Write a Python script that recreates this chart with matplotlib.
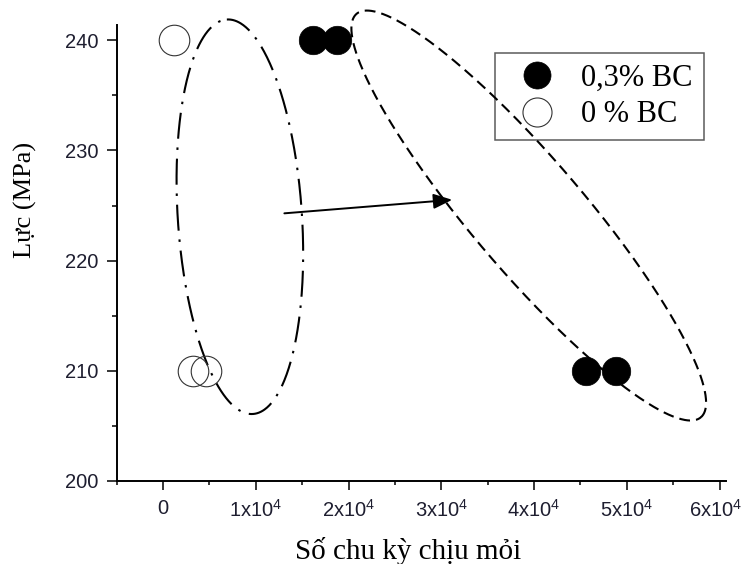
import numpy as np
import matplotlib
matplotlib.use("Agg")
import matplotlib.pyplot as plt
import matplotlib.transforms as mtransforms
from matplotlib.patches import FancyArrowPatch

plt.rcParams['mathtext.fontset'] = 'custom'
plt.rcParams['mathtext.rm'] = 'Liberation Sans'
plt.rcParams['mathtext.it'] = 'Liberation Sans:italic'
plt.rcParams['mathtext.bf'] = 'Liberation Sans:bold'

# data
bc03_x = [16200, 18800, 45600, 48800]
bc03_y = [240, 240, 210, 210]
bc0_x = [1200, 3200, 4600]
bc0_y = [240, 210, 210]

x_ticks = [0, 10000, 20000, 30000, 40000, 50000, 60000]
x_tick_labels = ['0', '1x10$^4$', '2x10$^4$', '3x10$^4$', '4x10$^4$', '5x10$^4$', '6x10$^4$']
y_ticks = [200, 210, 220, 230, 240]

# ellipse guides: centre, half axis vectors (data units)
ell1_c = (8280, 223.98)
ell1_a = (-1403, 17.92)
ell1_b = (6680, 0.37)
ell2_c = (39430, 224.09)
ell2_a = (18560, -18.33)
ell2_b = (4608, 3.29)

arrow_start = (12780, 224.27)
arrow_end = (31480, 225.54)

fig = plt.figure(figsize=(7.43, 5.64), dpi=100)
ax = fig.add_axes([116.7/743, 1-480.7/564, (726-116.7)/743, (480.7-25)/564])

t = np.linspace(0, 2*np.pi, 600)
ex1 = ell1_c[0] + ell1_a[0]*np.cos(t) + ell1_b[0]*np.sin(t)
ey1 = ell1_c[1] + ell1_a[1]*np.cos(t) + ell1_b[1]*np.sin(t)
ex2 = ell2_c[0] + ell2_a[0]*np.cos(t) + ell2_b[0]*np.sin(t)
ey2 = ell2_c[1] + ell2_a[1]*np.cos(t) + ell2_b[1]*np.sin(t)

ax.plot(ex1, ey1, color='black', lw=1.5, linestyle=(0, (12.5, 4.2, 1.2, 4.2)),
        zorder=2, clip_on=False)
ax.plot(ex2, ey2, color='black', lw=1.5, linestyle=(0, (5.2, 2.9)),
        zorder=2, clip_on=False)

ax.plot(bc03_x, bc03_y, 'o', ms=20.5, mfc='black', mec='black', mew=0.5,
        linestyle='none', label='0,3% BC', zorder=3, clip_on=False)
ax.plot(bc0_x, bc0_y, 'o', ms=22, mfc='none', mec='#333333', mew=0.8,
        linestyle='none', label='0 % BC', zorder=3, clip_on=False)

arr = FancyArrowPatch(arrow_start, arrow_end, arrowstyle='-|>,head_length=0.95,head_width=0.38',
                      mutation_scale=12, color='black', lw=1.4, zorder=4)
ax.add_patch(arr)

ax.set_xlim(-5000, 60700)
ax.set_ylim(200, 241.4)
ax.set_xticks(x_ticks)
ax.set_xticklabels(x_tick_labels)
ax.set_xticks(np.arange(-5000, 60000, 10000), minor=True)
ax.set_yticks(y_ticks)
ax.set_yticks([205, 215, 225, 235], minor=True)

for s in ['top', 'right']:
    ax.spines[s].set_visible(False)
for s in ['left', 'bottom']:
    ax.spines[s].set_linewidth(1.4)

ax.tick_params(axis='both', which='major', direction='out', width=1.1,
               labelsize=14.5, labelcolor='#1e1e30')
ax.tick_params(axis='y', which='major', length=7.2, pad=6)
ax.tick_params(axis='x', which='major', length=6.5, pad=6.5)
ax.tick_params(axis='y', which='minor', direction='out', length=3.6, width=1.1)
ax.tick_params(axis='x', which='minor', direction='out', length=3.2, width=1.1)
for lab in ax.get_xticklabels() + ax.get_yticklabels():
    lab.set_fontfamily('Liberation Sans')
# last label sits right at the figure edge, pull it in a few pixels
last = ax.get_xticklabels()[-1]
last.set_transform(last.get_transform() + mtransforms.ScaledTranslation(-4/100, 0, fig.dpi_scale_trans))

fig.text(25/743, 1-199.5/564, 'Lực (MPa)', rotation=90, ha='center', va='center',
         fontfamily='Liberation Serif', fontsize=19)
fig.text(408.3/743, 1-559/564, 'Số chu kỳ chịu mỏi', ha='center', va='baseline',
         fontfamily='Liberation Serif', fontsize=21)

leg = ax.legend(loc='upper left', bbox_to_anchor=(495/743, 1-53/564),
                bbox_transform=fig.transFigure, frameon=True, fancybox=False,
                prop={'family': 'Liberation Serif', 'size': 22}, borderpad=0.36,
                handlelength=2.05, handletextpad=0.42, labelspacing=0.24,
                borderaxespad=0, markerscale=0.95)
leg.get_frame().set_edgecolor('#333333')
leg.get_frame().set_linewidth(1.1)
leg.get_frame().set_facecolor('none')
leg.set_zorder(1)

fig.savefig('out.png', dpi=100)
